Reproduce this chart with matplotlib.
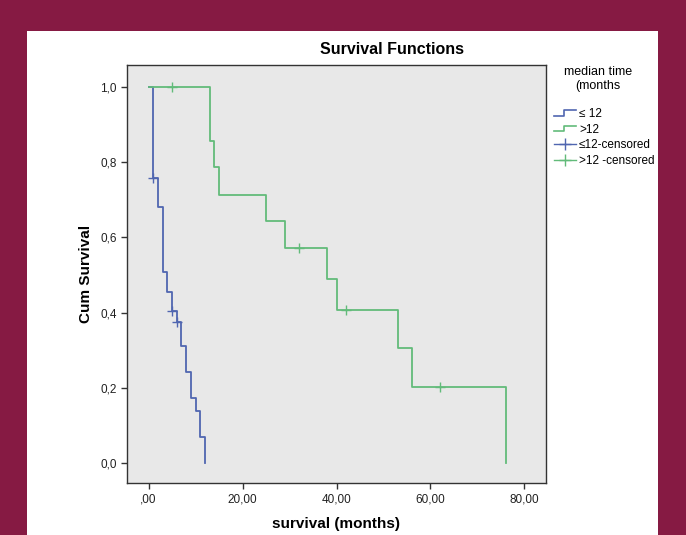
import matplotlib
matplotlib.use("Agg")
import matplotlib.pyplot as plt
from matplotlib.lines import Line2D
from matplotlib.patches import Rectangle
from matplotlib.legend_handler import HandlerBase

plt.rcParams['font.family'] = ['Liberation Sans', 'DejaVu Sans']

# group <= 12 months
t_low = [0, 1, 2, 3, 4, 5, 6, 7, 8, 9, 10, 11, 12]
s_low = [1.0, 0.757, 0.681, 0.507, 0.456, 0.405, 0.376, 0.312, 0.242, 0.173, 0.140, 0.071, 0.0]
cens_t_low = [1, 5, 6]
cens_s_low = [0.757, 0.405, 0.376]

# group > 12 months
t_high = [0, 13, 14, 15, 25, 29, 38, 40, 53, 56, 76]
s_high = [1.0, 0.857, 0.786, 0.714, 0.643, 0.571, 0.490, 0.408, 0.306, 0.204, 0.0]
cens_t_high = [5, 32, 42, 62]
cens_s_high = [1.0, 0.571, 0.408, 0.204]

xticks = [0, 20, 40, 60, 80]
xticklabels = [',00', '20,00', '40,00', '60,00', '80,00']
yticks = [0.0, 0.2, 0.4, 0.6, 0.8, 1.0]
yticklabels = ['0,0', '0,2', '0,4', '0,6', '0,8', '1,0']

blue = '#5066b0'
green = '#62bb7a'
maroon = '#861a43'

W, H = 686, 535
fig = plt.figure(figsize=(W / 100, H / 100), dpi=100, facecolor=maroon)
# white panel behind everything
fig.patches.append(Rectangle((27 / W, 0), (658 - 27) / W, (H - 31) / H,
                             transform=fig.transFigure, facecolor='white',
                             edgecolor='none', zorder=-5))

ax = fig.add_axes([127 / W, (H - 483) / H, (546 - 127) / W, (483 - 65) / H])
ax.set_zorder(2)
ax.set_facecolor('#e8e8e8')

ax.step(t_low, s_low, where='post', color=blue, lw=1.3)
ax.step(t_high, s_high, where='post', color=green, lw=1.3)
ax.plot(cens_t_low, cens_s_low, '+', color=blue, ms=7, mew=1.0)
ax.plot(cens_t_high, cens_s_high, '+', color=green, ms=7, mew=1.0)

ax.set_xlim(-4.6, 84.6)
ax.set_ylim(-0.052, 1.058)
ax.set_xticks(xticks)
ax.set_xticklabels(xticklabels, fontsize=8.5, color='#222222')
ax.set_yticks(yticks)
ax.set_yticklabels(yticklabels, fontsize=8.5, color='#222222')
ax.tick_params(length=4, width=1, color='#333333')
for sp in ax.spines.values():
    sp.set_color('#333333')
    sp.set_linewidth(1)

ax.set_xlabel('survival (months)', fontsize=11, fontweight='bold', labelpad=8)
ax.set_ylabel('Cum Survival', fontsize=11, fontweight='bold', labelpad=5)
fig.text(392 / W, 1 - 50 / H, 'Survival Functions', fontsize=11.5, fontweight='bold',
         ha='center', va='center')

# legend title, drawn as text so the gap to the entries can match
fig.text(598 / W, 1 - 79 / H, 'median time\n(months', fontsize=9, ha='center',
         va='center', multialignment='center', linespacing=1.15)


class StepHandler(HandlerBase):
    def create_artists(self, legend, orig_handle, xdescent, ydescent, width, height, fontsize, trans):
        xs = [0, width * 0.45, width * 0.45, width]
        ys = [height * 0.2, height * 0.2, height * 0.85, height * 0.85]
        ln = Line2D(xs, ys, color=orig_handle.get_color(), lw=1.2, transform=trans)
        return [ln]


h1 = Line2D([], [], color=blue)
h2 = Line2D([], [], color=green)
h3 = Line2D([], [], color=blue, marker='+', ms=9, lw=1)
h4 = Line2D([], [], color=green, marker='+', ms=9, lw=1)
leg = fig.legend([h1, h2, h3, h4], ['≤ 12', '>12', '≤12-censored', '>12 -censored'],
                 handler_map={h1: StepHandler(), h2: StepHandler()},
                 loc='upper left', bbox_to_anchor=(546 / W, 1 - 100 / H), frameon=False,
                 fontsize=8.5, handlelength=1.8, handletextpad=0.3,
                 labelspacing=0.3, borderpad=0.2)
leg.set_zorder(3)

fig.savefig('out.png', dpi=100, facecolor=maroon)
